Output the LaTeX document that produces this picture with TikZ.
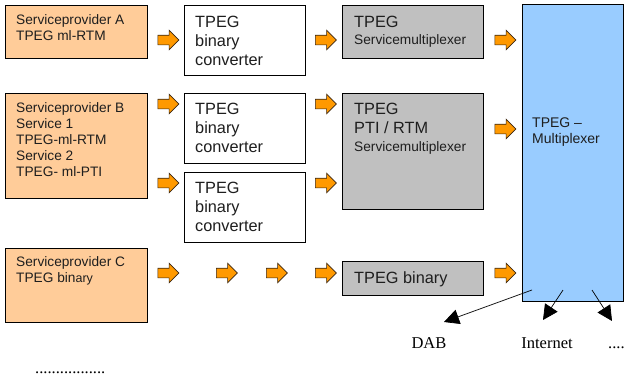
\documentclass[tikz,border=0pt]{standalone}
\usepackage{fontspec}
\setmainfont{Liberation Serif}
\newfontfamily\arial[Ligatures=TeX]{Liberation Sans}
\usetikzlibrary{shapes.arrows,arrows.meta}

\definecolor{peach}{HTML}{FFCC99}
\definecolor{muxgray}{HTML}{C0C0C0}
\definecolor{skyblue}{HTML}{99CCFF}
\definecolor{arroworange}{HTML}{FF9900}
\definecolor{ink}{HTML}{1E1E1E}

\tikzset{
  box/.style={draw=black, line width=0.8pt, inner sep=0pt, outer sep=0pt},
  provider/.style={box, fill=peach},
  conv/.style={box, fill=white},
  mux/.style={box, fill=muxgray},
  bigmux/.style={box, fill=skyblue},
  smalltext/.style={anchor=base west, inner sep=0pt, align=left, text=ink,
    font=\arial\fontsize{13.7}{16}\selectfont},
  bigtext/.style={anchor=base west, inner sep=0pt, align=left, text=ink,
    font=\arial\fontsize{16.3}{19}\selectfont},
  outlabel/.style={anchor=base, inner sep=0pt, text=black,
    font=\fontsize{16.5}{19}\selectfont},
  flow/.style={single arrow, draw=black!70!brown, fill=arroworange,
    line width=0.6pt, inner sep=4.5pt, minimum height=21pt,
    single arrow head extend=5pt, outer sep=0pt},
  outarrow/.style={draw=black, line width=0.7pt,
    -{Triangle[length=15pt,width=15pt]}}
}

\begin{document}
\begin{tikzpicture}[x=1pt,y=-1pt]
\useasboundingbox (0,0) rectangle (625,381);

% service providers
\node[provider, minimum width=142pt, minimum height=53pt]  (provA) at (76,31.5) {};
\node[provider, minimum width=142pt, minimum height=105pt] (provB) at (76,145.5) {};
\node[provider, minimum width=142pt, minimum height=74pt]  (provC) at (76,285) {};

% binary converters
\node[conv, minimum width=121pt, minimum height=70pt] (conv1) at (244.5,40) {};
\node[conv, minimum width=121pt, minimum height=70pt] (conv2) at (244.5,128) {};
\node[conv, minimum width=121pt, minimum height=70pt] (conv3) at (244.5,207) {};

% service multiplexers
\node[mux, minimum width=141pt, minimum height=53pt]  (mux1) at (412.5,31.5) {};
\node[mux, minimum width=141pt, minimum height=116pt] (mux2) at (412.5,151) {};
\node[mux, minimum width=141pt, minimum height=34pt]  (binbox) at (412.5,278) {};

% TPEG multiplexer
\node[bigmux, minimum width=101pt, minimum height=297pt] (tpegmux) at (572.5,152.5) {};

% texts
\node[smalltext] (tA) at (16,40) {Serviceprovider A\\TPEG ml-RTM};
\node[smalltext] (tB) at (16,176) {Serviceprovider B\\Service 1\\TPEG-ml-RTM\\Service 2\\TPEG- ml-PTI};
\node[smalltext] (tC) at (16,282) {Serviceprovider C\\TPEG bin{\fontsize{12.5}{16}\selectfont ary}};

\node[bigtext] (tc1) at (195,65)  {TPEG\\binary\\converter};
\node[bigtext] (tc2) at (195,152) {TPEG\\binary\\converter};
\node[bigtext] (tc3) at (195,231) {TPEG\\binary\\converter};

\node[bigtext]   (tm1a) at (354,27)  {TPEG};
\node[smalltext] (tm1b) at (354,44)  {Servicemultiplexer};
\node[bigtext]   (tm2a) at (354,133) {TPEG\\PTI / RTM};
\node[smalltext] (tm2b) at (354,151) {Servicemultiplexer};
\node[bigtext]   (tbin) at (354,283) {TPEG binary};

\node[smalltext, font=\arial\fontsize{14}{16}\selectfont] (tmux) at (532,143) {TPEG –\\Multiplexer};

% orange flow arrows
\node[flow] (fa1) at (166,40) {};
\node[flow] (fa2) at (323.5,40) {};
\node[flow] (fa3) at (503,40) {};
\node[flow] (fb1) at (166,104) {};
\node[flow] (fb2) at (323.5,104) {};
\node[flow] (fb3) at (166,183) {};
\node[flow] (fb4) at (323.5,183) {};
\node[flow] (fb5) at (503,129) {};
\node[flow] (fc1) at (166,273) {};
\node[flow] (fc2) at (224.5,273) {};
\node[flow] (fc3) at (274.5,273) {};
\node[flow] (fc4) at (323.5,273) {};
\node[flow] (fc5) at (503,273) {};

% outputs
\node[outlabel] (dab) at (429,348) {DAB};
\node[outlabel] (inet) at (547,348) {Internet};
\node[outlabel, anchor=base west] (more) at (608,348) {....};
\node[outlabel, anchor=base west] (dots) at (35,373) {.................};

\coordinate (s1) at (532,290);
\coordinate (s2) at (563,290);
\coordinate (s3) at (592,290);
\coordinate (e1) at (444,322);
\coordinate (e2) at (543,320);
\coordinate (e3) at (612,321);
\draw[outarrow] (s1) -- (e1);
\draw[outarrow] (s2) -- (e2);
\draw[outarrow] (s3) -- (e3);
\end{tikzpicture}
\end{document}
